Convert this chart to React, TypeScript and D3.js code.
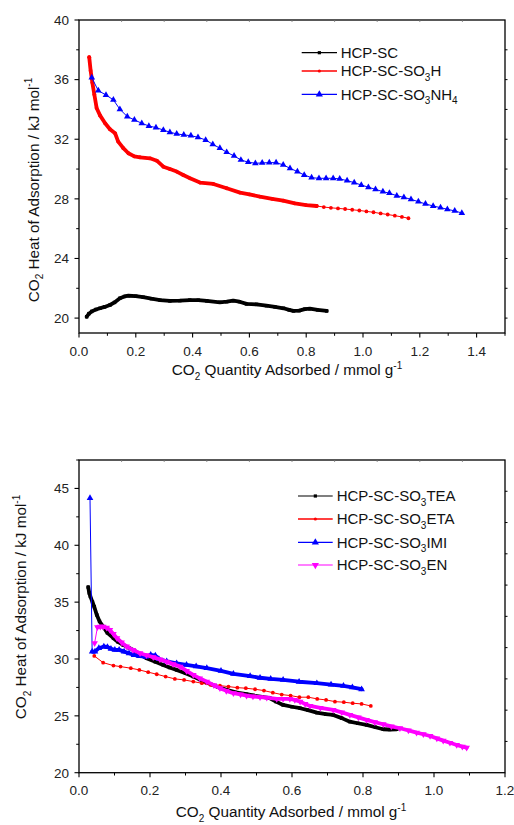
import React from "react";
import * as d3 from "d3";

const FONT = "'Liberation Sans', Arial, Helvetica, sans-serif";

// ---------- Top chart data ----------
const topXTicks = [0, 0.2, 0.4, 0.6, 0.8, 1.0, 1.2, 1.4];
const topYTicks = [20, 24, 28, 32, 36, 40];

const hcpX = [0.027, 0.035, 0.045, 0.06, 0.074, 0.09, 0.109, 0.125, 0.144, 0.16, 0.174, 0.2, 0.226, 0.255, 0.285, 0.32, 0.355, 0.39, 0.42, 0.45, 0.496, 0.52, 0.543, 0.565, 0.59, 0.625, 0.66, 0.69, 0.72, 0.74, 0.755, 0.775, 0.795, 0.813, 0.84, 0.872];
const hcpY = [20.09, 20.3, 20.45, 20.58, 20.66, 20.75, 20.88, 21.05, 21.33, 21.45, 21.5, 21.47, 21.4, 21.3, 21.21, 21.15, 21.17, 21.21, 21.2, 21.15, 21.06, 21.1, 21.17, 21.1, 20.95, 20.92, 20.83, 20.75, 20.66, 20.55, 20.48, 20.5, 20.6, 20.63, 20.55, 20.48];

const so3hX = [0.036, 0.041, 0.047, 0.054, 0.062, 0.074, 0.092, 0.109, 0.127, 0.138, 0.156, 0.174, 0.195, 0.215, 0.25, 0.274, 0.297, 0.32, 0.344, 0.367, 0.391, 0.426, 0.473, 0.52, 0.567, 0.6, 0.637, 0.68, 0.719, 0.76, 0.8, 0.837, 0.862, 0.887, 0.912, 0.937, 0.962, 0.987, 1.012, 1.037, 1.062, 1.087, 1.112, 1.137, 1.16];
const so3hY = [37.5, 36.6, 35.8, 35.0, 34.1, 33.6, 33.07, 32.67, 32.4, 31.84, 31.4, 31.06, 30.85, 30.79, 30.72, 30.56, 30.16, 30.0, 29.83, 29.6, 29.38, 29.09, 29.0, 28.71, 28.42, 28.3, 28.15, 28.0, 27.88, 27.7, 27.58, 27.52, 27.45, 27.4, 27.36, 27.32, 27.27, 27.22, 27.16, 27.1, 27.02, 26.95, 26.87, 26.79, 26.7];

const nh4X = [0.045, 0.068, 0.095, 0.121, 0.144, 0.17, 0.195, 0.221, 0.246, 0.271, 0.297, 0.32, 0.344, 0.369, 0.394, 0.419, 0.446, 0.471, 0.496, 0.52, 0.546, 0.57, 0.596, 0.621, 0.645, 0.67, 0.694, 0.719, 0.743, 0.769, 0.793, 0.819, 0.845, 0.87, 0.895, 0.918, 0.944, 0.969, 0.994, 1.019, 1.044, 1.07, 1.093, 1.119, 1.144, 1.169, 1.195, 1.22, 1.247, 1.273, 1.297, 1.323, 1.348];
const nh4Y = [36.13, 35.26, 34.97, 34.64, 34.01, 33.52, 33.3, 33.07, 32.89, 32.78, 32.62, 32.47, 32.36, 32.29, 32.24, 32.13, 31.95, 31.66, 31.4, 31.13, 30.88, 30.61, 30.46, 30.39, 30.41, 30.43, 30.43, 30.28, 30.05, 29.83, 29.6, 29.42, 29.38, 29.38, 29.38, 29.34, 29.22, 29.09, 28.93, 28.78, 28.64, 28.48, 28.38, 28.21, 28.1, 27.97, 27.81, 27.66, 27.52, 27.41, 27.3, 27.19, 27.05];

// ---------- Bottom chart data ----------
const botXTicks = [0, 0.2, 0.4, 0.6, 0.8, 1.0, 1.2];
const botYTicks = [20, 25, 30, 35, 40, 45];

const teaX = [0.026, 0.029, 0.032, 0.038, 0.043, 0.05, 0.058, 0.068, 0.08, 0.097, 0.11, 0.124, 0.14, 0.153, 0.17, 0.19, 0.215, 0.237, 0.255, 0.275, 0.3, 0.322, 0.34, 0.36, 0.39, 0.416, 0.445, 0.472, 0.49, 0.51, 0.538, 0.555, 0.575, 0.6, 0.623, 0.645, 0.67, 0.695, 0.716, 0.74, 0.763, 0.785, 0.81, 0.835, 0.857, 0.875, 0.895];
const teaY = [36.32, 35.8, 35.5, 35.0, 34.6, 33.88, 33.3, 32.85, 32.3, 31.83, 31.5, 31.24, 31.0, 30.8, 30.45, 30.07, 29.75, 29.48, 29.25, 29.04, 28.75, 28.45, 28.2, 27.92, 27.55, 27.28, 27.05, 26.9, 26.8, 26.69, 26.55, 26.25, 25.96, 25.8, 25.67, 25.5, 25.28, 25.15, 25.08, 24.8, 24.49, 24.35, 24.2, 24.0, 23.82, 23.8, 23.82];

const etaX = [0.043, 0.068, 0.097, 0.117, 0.146, 0.17, 0.195, 0.219, 0.244, 0.27, 0.296, 0.322, 0.346, 0.371, 0.397, 0.421, 0.446, 0.47, 0.496, 0.521, 0.546, 0.571, 0.596, 0.621, 0.646, 0.671, 0.696, 0.721, 0.746, 0.771, 0.796, 0.822];
const etaY = [30.27, 29.68, 29.42, 29.33, 29.19, 29.04, 28.84, 28.66, 28.45, 28.25, 28.16, 28.01, 27.87, 27.72, 27.66, 27.57, 27.48, 27.43, 27.34, 27.22, 27.04, 26.87, 26.78, 26.64, 26.64, 26.49, 26.4, 26.25, 26.2, 26.11, 26.05, 25.87];

const imiX = [0.031, 0.037, 0.045, 0.056, 0.07, 0.08, 0.09, 0.101, 0.113, 0.127, 0.141, 0.155, 0.17, 0.188, 0.202, 0.215, 0.225, 0.247, 0.275, 0.303, 0.33, 0.36, 0.4, 0.435, 0.482, 0.51, 0.54, 0.575, 0.62, 0.67, 0.71, 0.745, 0.77, 0.796];
const imiY = [44.16, 30.65, 30.65, 30.95, 31.1, 31.05, 30.9, 30.8, 30.8, 30.65, 30.5, 30.35, 30.25, 30.2, 30.36, 30.3, 30.0, 29.8, 29.62, 29.48, 29.35, 29.19, 28.95, 28.69, 28.5, 28.35, 28.25, 28.16, 28.0, 27.87, 27.75, 27.63, 27.5, 27.34];

const enX = [0.044, 0.052, 0.06, 0.068, 0.078, 0.087, 0.097, 0.107, 0.12, 0.134, 0.152, 0.172, 0.19, 0.209, 0.228, 0.247, 0.265, 0.285, 0.303, 0.322, 0.34, 0.36, 0.38, 0.397, 0.415, 0.435, 0.455, 0.472, 0.49, 0.51, 0.529, 0.557, 0.575, 0.594, 0.608, 0.623, 0.637, 0.651, 0.68, 0.716, 0.74, 0.763, 0.787, 0.81, 0.833, 0.857, 0.88, 0.904, 0.928, 0.951, 0.97, 0.989, 1.008, 1.026, 1.045, 1.064, 1.08, 1.092];
const enY = [31.4, 32.8, 32.85, 32.85, 32.75, 32.56, 32.2, 31.83, 31.45, 31.1, 30.8, 30.51, 30.33, 30.16, 29.97, 29.77, 29.55, 29.33, 28.95, 28.6, 28.3, 28.01, 27.7, 27.43, 27.2, 26.99, 26.88, 26.78, 26.7, 26.64, 26.6, 26.49, 26.49, 26.49, 26.4, 26.25, 26.05, 25.87, 25.7, 25.52, 25.3, 25.08, 24.86, 24.64, 24.45, 24.26, 24.08, 23.91, 23.72, 23.52, 23.38, 23.23, 23.02, 22.82, 22.63, 22.44, 22.3, 22.2];

type Seg = { t: string; sub?: boolean; sup?: boolean };
type Series = {
  label: Seg[];
  color: string;
  marker: "square" | "circle" | "up" | "down";
  x: number[];
  y: number[];
  thick?: [number, number];
};

const topSeries: Series[] = [
  { label: [{ t: "HCP-SC" }], color: "#000000", marker: "square", x: hcpX, y: hcpY, thick: [0, 2] },
  { label: [{ t: "HCP-SC-SO" }, { t: "3", sub: true }, { t: "H" }], color: "#ff0000", marker: "circle", x: so3hX, y: so3hY, thick: [0, 0.85] },
  { label: [{ t: "HCP-SC-SO" }, { t: "3", sub: true }, { t: "NH" }, { t: "4", sub: true }], color: "#0000ff", marker: "up", x: nh4X, y: nh4Y },
];

const botSeries: Series[] = [
  { label: [{ t: "HCP-SC-SO" }, { t: "3", sub: true }, { t: "TEA" }], color: "#000000", marker: "square", x: teaX, y: teaY, thick: [0, 2] },
  { label: [{ t: "HCP-SC-SO" }, { t: "3", sub: true }, { t: "ETA" }], color: "#ff0000", marker: "circle", x: etaX, y: etaY },
  { label: [{ t: "HCP-SC-SO" }, { t: "3", sub: true }, { t: "IMI" }], color: "#0000ff", marker: "up", x: imiX, y: imiY, thick: [0.036, 2] },
  { label: [{ t: "HCP-SC-SO" }, { t: "3", sub: true }, { t: "EN" }], color: "#ff00ff", marker: "down", x: enX, y: enY, thick: [0.05, 2] },
];

const yTitle: Seg[] = [{ t: "CO" }, { t: "2", sub: true }, { t: " Heat of Adsorption / kJ mol" }, { t: "-1", sup: true }];
const xTitle: Seg[] = [{ t: "CO" }, { t: "2", sub: true }, { t: " Quantity Adsorbed / mmol g" }, { t: "-1", sup: true }];

function RichText({ segs, size, subSize }: { segs: Seg[]; size: number; subSize: number }) {
  const out: React.ReactNode[] = [];
  let shift = 0;
  segs.forEach((s, i) => {
    const target = s.sub ? size * 0.3 : s.sup ? -size * 0.42 : 0;
    const dy = target - shift;
    shift = target;
    out.push(
      <tspan key={i} dy={dy} fontSize={s.sub || s.sup ? subSize : size}>
        {s.t}
      </tspan>
    );
  });
  return <>{out}</>;
}

function Marker({ type, cx, cy, color, size }: { type: string; cx: number; cy: number; color: string; size: number }) {
  if (type === "square") {
    return <rect x={cx - size / 2} y={cy - size / 2} width={size} height={size} fill={color} />;
  }
  if (type === "circle") {
    return <circle cx={cx} cy={cy} r={size / 2} fill={color} />;
  }
  const sym = d3.symbol().type(d3.symbolTriangle).size(size * size * 0.9)();
  return (
    <path
      d={sym || ""}
      transform={`translate(${cx},${cy})${type === "down" ? " rotate(180)" : ""}`}
      fill={color}
    />
  );
}

type ChartProps = {
  left: number;
  top: number;
  width: number;
  height: number;
  xDomain: [number, number];
  yDomain: [number, number];
  xTicks: number[];
  yTicks: number[];
  xMinorStep: number;
  yMinorStep: number;
  topStep: number;
  rightStep: number;
  series: Series[];
  legend: { x1: number; x2: number; tx: number; ys: number[] };
  yTitlePos: [number, number];
  xTitlePos: [number, number];
};

const TICK_FS = 13.5;
const TITLE_FS = 15.3;
const LEG_FS = 15;

function Chart(p: ChartProps) {
  const xs = d3.scaleLinear().domain(p.xDomain).range([p.left, p.left + p.width]);
  const ys = d3.scaleLinear().domain(p.yDomain).range([p.top + p.height, p.top]);
  const bottom = p.top + p.height;
  const right = p.left + p.width;
  const line = d3
    .line<[number, number]>()
    .x((d) => xs(d[0]))
    .y((d) => ys(d[1]));

  const xMinor = d3.range(p.xDomain[0], p.xDomain[1] + 1e-9, p.xMinorStep).filter((v) => !p.xTicks.some((t) => Math.abs(t - v) < 1e-6));
  const yMinorAll = d3.range(p.yTicks[0] - p.yMinorStep, p.yDomain[1] + 1e-9, p.yMinorStep).filter((v) => v > p.yDomain[0] && !p.yTicks.some((t) => Math.abs(t - v) < 1e-6));
  const topTicks = d3.range(1, 10).map((i) => p.xDomain[0] + i * p.topStep);
  const rightTicks = d3.range(1, 20).map((i) => p.yDomain[1] - i * p.rightStep).filter((v) => v > p.yDomain[0]);
  const fx = d3.format(".1f");

  return (
    <g>
      {/* series */}
      {p.series.map((s, si) => {
        const pts = d3.zip(s.x, s.y) as [number, number][];
        const inThick = (d: [number, number]) => !!s.thick && d[0] >= s.thick[0] && d[0] <= s.thick[1];
        const thickPts = pts.filter(inThick);
        const base = s.marker === "up" || s.marker === "down" ? 4.6 : s.marker === "circle" ? 3.8 : 3.4;
        return (
          <g key={si}>
            <path d={line(pts) || ""} fill="none" stroke={s.color} strokeWidth={1} />
            {thickPts.length > 1 && (
              <path d={line(thickPts) || ""} fill="none" stroke={s.color} strokeWidth={3.8} strokeLinejoin="round" strokeLinecap="round" />
            )}
            {pts.map((d, i) => (
              <Marker key={i} type={s.marker} cx={xs(d[0])} cy={ys(d[1])} color={s.color} size={base} />
            ))}
          </g>
        );
      })}

      {/* frame */}
      <rect x={p.left} y={p.top} width={p.width} height={p.height} fill="none" stroke="#000" strokeWidth={1.3} />

      {/* bottom axis */}
      {p.xTicks.map((t) => (
        <g key={"xt" + t}>
          <line x1={xs(t)} x2={xs(t)} y1={bottom} y2={bottom + 4.5} stroke="#000" strokeWidth={1.1} />
          <text x={xs(t)} y={bottom + 22.5} textAnchor="middle" fontSize={TICK_FS} fill="#222" fontFamily={FONT}>
            {fx(t)}
          </text>
        </g>
      ))}
      {xMinor.map((t) => (
        <line key={"xm" + t} x1={xs(t)} x2={xs(t)} y1={bottom} y2={bottom + 2.8} stroke="#000" strokeWidth={1} />
      ))}

      {/* left axis */}
      {p.yTicks.map((t) => (
        <g key={"yt" + t}>
          <line x1={p.left - 4.5} x2={p.left} y1={ys(t)} y2={ys(t)} stroke="#000" strokeWidth={1.1} />
          <text x={p.left - 10} y={ys(t) + 4.8} textAnchor="end" fontSize={TICK_FS} fill="#222" fontFamily={FONT}>
            {t}
          </text>
        </g>
      ))}
      {yMinorAll.map((t) => (
        <line key={"ym" + t} x1={p.left - 2.8} x2={p.left} y1={ys(t)} y2={ys(t)} stroke="#000" strokeWidth={1} />
      ))}

      {/* top & right small ticks */}
      {topTicks.map((t) => (
        <line key={"tt" + t} x1={xs(t)} x2={xs(t)} y1={p.top} y2={p.top + 2} stroke="#777" strokeWidth={0.8} />
      ))}
      {rightTicks.map((t) => (
        <line key={"rt" + t} x1={right} x2={right + 2.5} y1={ys(t)} y2={ys(t)} stroke="#000" strokeWidth={1} />
      ))}

      {/* legend */}
      {p.series.map((s, i) => {
        const ly = p.legend.ys[i];
        const msize = s.marker === "up" || s.marker === "down" ? 5 : 3.2;
        return (
          <g key={"lg" + i}>
            <line x1={p.legend.x1} x2={p.legend.x2} y1={ly} y2={ly} stroke={s.color} strokeWidth={s.color === "#ff0000" ? 1.6 : 1.2} />
            <Marker type={s.marker} cx={(p.legend.x1 + p.legend.x2) / 2} cy={ly} color={s.color} size={msize} />
            <text x={p.legend.tx} y={ly + 5.3} fontSize={LEG_FS} fill="#111" fontFamily={FONT}>
              <RichText segs={s.label} size={LEG_FS} subSize={10} />
            </text>
          </g>
        );
      })}

      {/* axis titles */}
      <text
        transform={`translate(${p.yTitlePos[0]},${p.yTitlePos[1]}) rotate(-90)`}
        textAnchor="middle"
        fontSize={TITLE_FS}
        fill="#111"
        fontFamily={FONT}
      >
        <RichText segs={yTitle} size={TITLE_FS} subSize={10} />
      </text>
      <text x={p.xTitlePos[0]} y={p.xTitlePos[1]} textAnchor="middle" fontSize={TITLE_FS} fill="#111" fontFamily={FONT}>
        <RichText segs={xTitle} size={TITLE_FS} subSize={10} />
      </text>
    </g>
  );
}

export default function App() {
  return (
    <svg
      width={514}
      height={825}
      viewBox="0 0 514 825"
      style={{ position: "absolute", left: 0, top: 0, display: "block", background: "#fff" }}
    >
      <rect x={0} y={0} width={514} height={825} fill="#fff" />
      <Chart
        left={79}
        top={20}
        width={426}
        height={313}
        xDomain={[0, 1.5]}
        yDomain={[19, 40]}
        xTicks={topXTicks}
        yTicks={topYTicks}
        xMinorStep={0.1}
        yMinorStep={2}
        topStep={0.15}
        rightStep={2}
        series={topSeries}
        legend={{ x1: 301.7, x2: 337, tx: 340.7, ys: [52.7, 71, 94.3] }}
        yTitlePos={[38.5, 190]}
        xTitlePos={[287, 375]}
      />
      <Chart
        left={79}
        top={460}
        width={426}
        height={312.7}
        xDomain={[0, 1.2]}
        yDomain={[20, 47.5]}
        xTicks={botXTicks}
        yTicks={botYTicks}
        xMinorStep={0.1}
        yMinorStep={2.5}
        topStep={0.12}
        rightStep={2.75}
        series={botSeries}
        legend={{ x1: 298, x2: 332.7, tx: 336.7, ys: [496, 519, 542.3, 565] }}
        yTitlePos={[26, 607]}
        xTitlePos={[291, 817]}
      />
    </svg>
  );
}
